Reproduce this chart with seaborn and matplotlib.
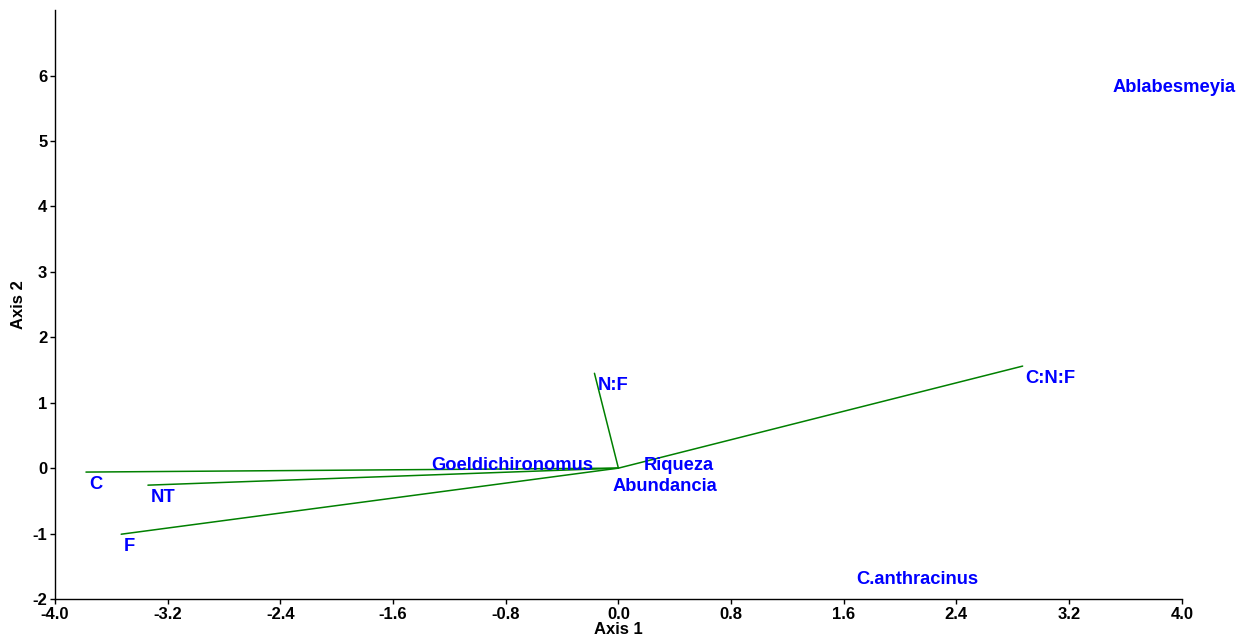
import numpy as np
import pandas as pd
import matplotlib
matplotlib.use("Agg")
import matplotlib.pyplot as plt
import seaborn as sns

# vectores (variables ambientales)
vec_names = ["C", "NT", "F", "N:F", "C:N:F"]
vec_x = [-3.78, -3.34, -3.53, -0.17, 2.87]
vec_y = [-0.06, -0.26, -1.01, 1.45, 1.56]

# especies / indices
sp_names = ["Goeldichironomus", "Riqueza", "Abundancia", "C.anthracinus", "Ablabesmeyia"]
sp_x = [-1.33, 0.18, -0.04, 1.69, 3.51]
sp_y = [0.17, 0.17, -0.15, -1.57, 5.95]

x_ticks = [-4.0, -3.2, -2.4, -1.6, -0.8, 0.0, 0.8, 1.6, 2.4, 3.2, 4.0]
y_ticks = [-2, -1, 0, 1, 2, 3, 4, 5, 6]

sns.set_style("ticks")
plt.rcParams["font.family"] = ["Liberation Sans", "DejaVu Sans"]
plt.rcParams["font.weight"] = "bold"

# tabla de segmentos: origen -> punta
rows = []
for n, x, y in zip(vec_names, vec_x, vec_y):
    rows.append(dict(vec=n, x=0.0, y=0.0, order=0))
    rows.append(dict(vec=n, x=x, y=y, order=1))
df = pd.DataFrame(rows)

fig = plt.figure(figsize=(12.44, 6.4), dpi=100)
ax = fig.add_axes([0.0442, 0.0641, 0.9058, 0.9199])

sns.lineplot(data=df, x="x", y="y", units="vec", estimator=None, sort=False,
             color="green", linewidth=1.1, ax=ax, legend=False)

for n, x, y in zip(vec_names, vec_x, vec_y):
    ax.text(x + 0.02, y - 0.06, n, color="blue", fontsize=13.2, fontweight="bold",
            ha="left", va="top", clip_on=False)

for n, x, y in zip(sp_names, sp_x, sp_y):
    ax.text(x, y, n, color="blue", fontsize=13.2, fontweight="bold",
            ha="left", va="top", clip_on=False)

ax.set_xlim(-4.0, 4.0)
ax.set_ylim(-2, 7)
ax.set_xticks(x_ticks)
ax.set_xticklabels([f"{t:.1f}" for t in x_ticks])
ax.set_yticks(y_ticks)
ax.set_yticklabels([str(t) for t in y_ticks])
ax.tick_params(labelsize=12, length=3.5, width=1, pad=2, colors="black")
for lab in ax.get_xticklabels() + ax.get_yticklabels():
    lab.set_fontweight("bold")
ax.set_xlabel("Axis 1", fontsize=12, fontweight="bold", labelpad=0, color="black")
ax.set_ylabel("Axis 2", fontsize=12, fontweight="bold", labelpad=5, color="black")
sns.despine(ax=ax)
for s in ["left", "bottom"]:
    ax.spines[s].set_linewidth(1)
    ax.spines[s].set_color("black")

fig.savefig("out.png", dpi=100)
